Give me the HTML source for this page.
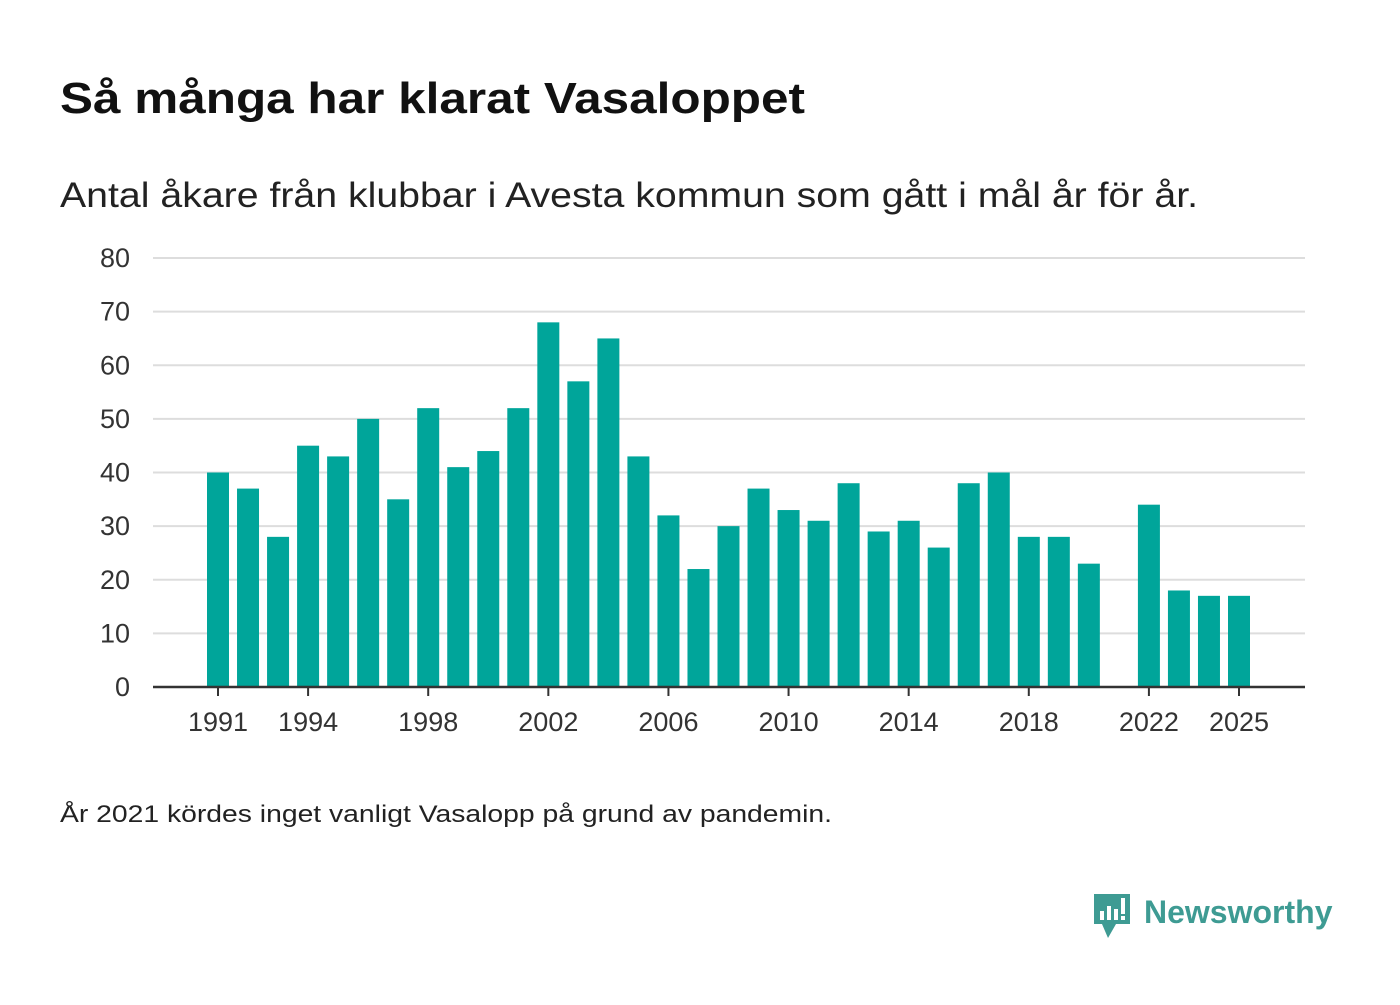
<!DOCTYPE html>
<html><head><meta charset="utf-8">
<style>
body{margin:0;background:#fff;width:1400px;height:1000px;overflow:hidden;font-family:"Liberation Sans",sans-serif;}
</style></head>
<body>
<svg id="chart" width="1400" height="1000" xmlns="http://www.w3.org/2000/svg">
<text x="60" y="113" font-size="44" font-weight="bold" fill="#111" textLength="745" lengthAdjust="spacingAndGlyphs">Så många har klarat Vasaloppet</text>
<text x="60" y="207" font-size="35" fill="#222" textLength="1138" lengthAdjust="spacingAndGlyphs">Antal åkare från klubbar i Avesta kommun som gått i mål år för år.</text>
<g id="grid"></g>
<g id="bars"></g>
<g id="xaxis"></g>
<text x="60" y="822" font-size="24" fill="#222" textLength="772" lengthAdjust="spacingAndGlyphs">År 2021 kördes inget vanligt Vasalopp på grund av pandemin.</text>
<g>
<path d="M1094,894 h36 v30 h-14 l-8,14 l-6,-14 h-8 z" fill="#3e9b93"/>
<rect x="1100" y="911" width="4" height="9" fill="#fff"/>
<rect x="1107" y="906" width="4" height="14" fill="#fff"/>
<rect x="1114" y="909" width="4" height="11" fill="#fff"/>
<rect x="1121" y="898" width="4" height="16" fill="#fff"/>
<rect x="1121" y="916" width="4" height="4" fill="#fff"/>
<text x="1144" y="923" font-size="32" font-weight="bold" fill="#3e9b93">Newsworthy</text>
</g>
</svg>
<script>
const years=[1991,1992,1993,1994,1995,1996,1997,1998,1999,2000,2001,2002,2003,2004,2005,2006,2007,2008,2009,2010,2011,2012,2013,2014,2015,2016,2017,2018,2019,2020,2021,2022,2023,2024,2025];
const values=[40,37,28,45,43,50,35,52,41,44,52,68,57,65,43,32,22,30,37,33,31,38,29,31,26,38,40,28,28,23,null,34,18,17,17];
const yTicks=[0,10,20,30,40,50,60,70,80];
const xTickLabels=[1991,1994,1998,2002,2006,2010,2014,2018,2022,2025];
const NS="http://www.w3.org/2000/svg";
const y0=687,y1=258,yMax=80;
const yS=v=>y0-(y0-y1)*v/yMax;
const xS=yr=>218+(yr-1991)*(1239-218)/34;
function mk(tag,attrs,parent){const e=document.createElementNS(NS,tag);for(const k in attrs)e.setAttribute(k,attrs[k]);parent.appendChild(e);return e;}
const grid=document.getElementById('grid'),bars=document.getElementById('bars'),xa=document.getElementById('xaxis');
yTicks.forEach(t=>{
  if(t>0){const l=mk('line',{x1:153,x2:1305,y1:yS(t),y2:yS(t),stroke:'#ddd','stroke-width':2},grid);
  
  }
  const tx=mk('text',{x:130,y:yS(t)+9,'font-size':27,fill:'#333','text-anchor':'end'},grid);
  tx.textContent=t;
  
  
});
years.forEach((yr,i)=>{
  const v=values[i];if(v==null)return;
  const r=mk('rect',{x:xS(yr)-11,y:yS(v),width:22,height:y0-yS(v),fill:'#00a59a'},bars);
  
  
});
const ax=mk('line',{x1:153,x2:1305,y1:y0,y2:y0,stroke:'#333','stroke-width':2.5},xa);


xTickLabels.forEach(yr=>{
  mk('line',{x1:xS(yr),x2:xS(yr),y1:y0,y2:y0+9,stroke:'#333','stroke-width':2},xa);
  const t=mk('text',{x:xS(yr),y:731,'font-size':27,fill:'#333','text-anchor':'middle'},xa);
  t.textContent=yr;
  
  
});
</script>
</body></html>
